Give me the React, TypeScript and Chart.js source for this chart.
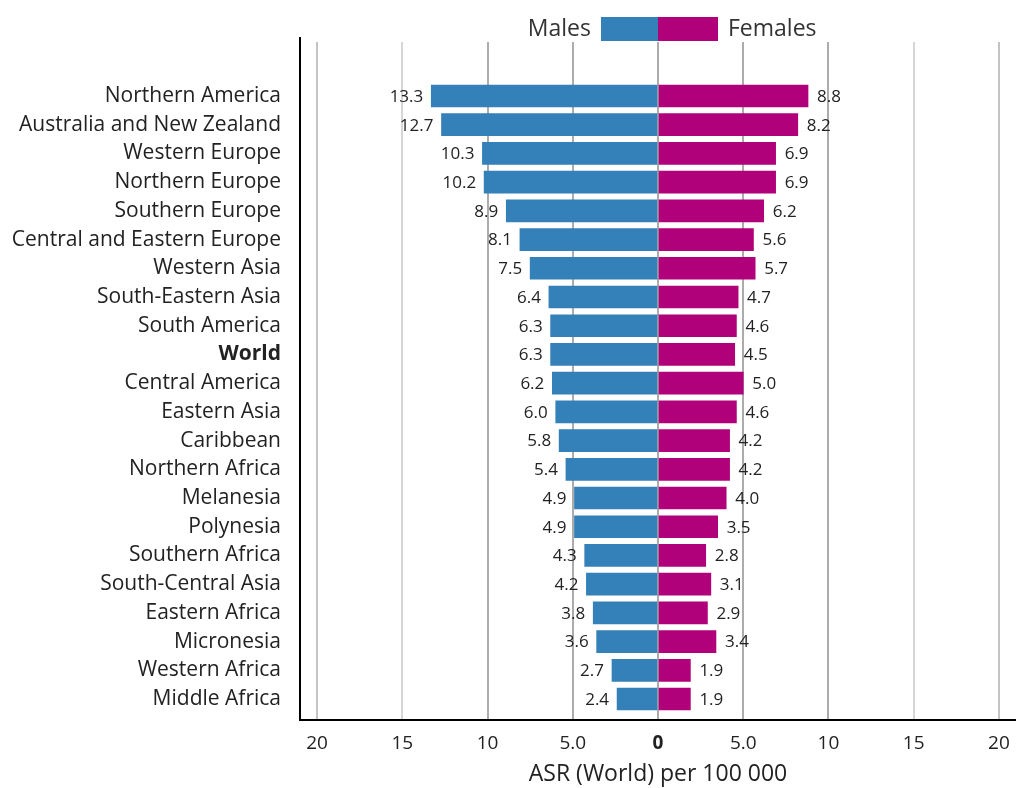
import React, { useEffect, useRef } from "react";
import { Chart, registerables } from "chart.js";

Chart.register(...registerables);

const categories = [
  "Northern America",
  "Australia and New Zealand",
  "Western Europe",
  "Northern Europe",
  "Southern Europe",
  "Central and Eastern Europe",
  "Western Asia",
  "South-Eastern Asia",
  "South America",
  "World",
  "Central America",
  "Eastern Asia",
  "Caribbean",
  "Northern Africa",
  "Melanesia",
  "Polynesia",
  "Southern Africa",
  "South-Central Asia",
  "Eastern Africa",
  "Micronesia",
  "Western Africa",
  "Middle Africa",
];

const males = [13.3, 12.7, 10.3, 10.2, 8.9, 8.1, 7.5, 6.4, 6.3, 6.3, 6.2, 6.0, 5.8, 5.4, 4.9, 4.9, 4.3, 4.2, 3.8, 3.6, 2.7, 2.4];
const females = [8.8, 8.2, 6.9, 6.9, 6.2, 5.6, 5.7, 4.7, 4.6, 4.5, 5.0, 4.6, 4.2, 4.2, 4.0, 3.5, 2.8, 3.1, 2.9, 3.4, 1.9, 1.9];

const xTicks = [-20, -15, -10, -5, 0, 5, 10, 15, 20];
const xTickLabels = ["20", "15", "10", "5.0", "0", "5.0", "10", "15", "20"];
const seriesNames = ["Males", "Females"];
const boldCategory = "World";
const axisTitle = "ASR (World) per 100 000";

const MALE_COLOR = "#3381b8";
const FEMALE_COLOR = "#b0007a";
const FONT = "'Open Sans', 'Noto Sans', sans-serif";

export default function App() {
  const canvasRef = useRef<HTMLCanvasElement | null>(null);

  useEffect(() => {
    const canvas = canvasRef.current;
    if (!canvas) return;

    const labelsPlugin = {
      id: "barLabels",
      afterDatasetsDraw(chart: any) {
        const ctx = chart.ctx;
        ctx.save();
        ctx.font = `17px ${FONT}`;
        ctx.fillStyle = "#222";
        ctx.textBaseline = "middle";
        chart.data.datasets.forEach((ds: any, di: number) => {
          const meta = chart.getDatasetMeta(di);
          meta.data.forEach((el: any, i: number) => {
            const v = di === 0 ? males[i] : females[i];
            const txt = v.toFixed(1);
            if (di === 0) {
              ctx.textAlign = "right";
              ctx.fillText(txt, el.x - 8, el.y + 1);
            } else {
              ctx.textAlign = "left";
              ctx.fillText(txt, el.x + 9, el.y + 1);
            }
          });
        });
        ctx.restore();
      },
      afterDraw(chart: any) {
        const ctx = chart.ctx;
        const xs = chart.scales.x;
        const zero = xs.getPixelForValue(0);
        ctx.save();
        ctx.fillStyle = MALE_COLOR;
        ctx.fillRect(zero - 57, 17, 57, 24);
        ctx.fillStyle = FEMALE_COLOR;
        ctx.fillRect(zero, 17, 60, 24);
        ctx.font = `23px ${FONT}`;
        ctx.fillStyle = "#333";
        ctx.textBaseline = "middle";
        ctx.textAlign = "right";
        ctx.fillText(seriesNames[0], zero - 67, 29);
        ctx.textAlign = "left";
        ctx.fillText(seriesNames[1], zero + 70, 29);
        ctx.strokeStyle = "#000";
        ctx.lineWidth = 2;
        ctx.beginPath();
        ctx.moveTo(chart.chartArea.left, 37);
        ctx.lineTo(chart.chartArea.left, chart.chartArea.top);
        ctx.stroke();
        ctx.restore();
      },
    };

    const chart = new Chart(canvas, {
      type: "bar",
      data: {
        datasets: [
          {
            label: seriesNames[0],
            data: males.map((v, i) => ({ x: -v, y: i })),
            backgroundColor: MALE_COLOR,
            grouped: false,
            barThickness: 22,
          } as any,
          {
            label: seriesNames[1],
            data: females.map((v, i) => ({ x: v, y: i })),
            backgroundColor: FEMALE_COLOR,
            grouped: false,
            barThickness: 22,
          } as any,
        ],
      },
      options: {
        indexAxis: "y",
        animation: false,
        responsive: false,
        devicePixelRatio: 1,
        layout: { padding: { top: 42, left: 0, right: 0, bottom: 0 } },
        plugins: {
          legend: { display: false },
          tooltip: { enabled: false },
        },
        scales: {
          x: {
            type: "linear",
            min: -21,
            max: 21,
            afterBuildTicks: (scale: any) => {
              scale.ticks = xTicks.map((v) => ({ value: v }));
            },
            afterFit: (scale: any) => {
              scale.height = 68;
              scale.paddingLeft = 0;
              scale.paddingRight = 0;
            },
            ticks: {
              callback: (v: any) => {
                const idx = xTicks.indexOf(Number(v));
                return idx >= 0 ? xTickLabels[idx] : "";
              },
              font: (ctx: any) => ({
                family: FONT,
                size: 19,
                weight: ctx.tick?.value === 0 ? "bold" : "normal",
              }),
              color: "#222",
              padding: 12,
              maxRotation: 0,
            },
            grid: {
              drawTicks: false,
              lineWidth: 2,
              color: (ctx: any) => {
                const v = Math.abs(ctx.tick?.value ?? 0);
                if (v === 15) return "#d6d6d6";
                if (v === 20) return "#c4c4c4";
                return "#acacac";
              },
            },
            border: { display: true, color: "#000", width: 2 },
            title: {
              display: true,
              text: axisTitle,
              font: { family: FONT, size: 23 },
              color: "#222",
              padding: { top: 0, bottom: 0 },
            },
          },
          y: {
            type: "linear",
            reverse: true,
            offset: false,
            min: -1.88,
            max: 21.73,
            afterBuildTicks: (scale: any) => {
              scale.ticks = categories.map((_, i) => ({ value: i }));
            },
            afterFit: (scale: any) => {
              scale.width = 300;
            },
            ticks: {
              callback: (v: any) => categories[Number(v)] ?? "",
              font: (ctx: any) => ({
                family: FONT,
                size: 21,
                weight: categories[ctx.tick?.value] === boldCategory ? "bold" : "normal",
              }),
              color: "#222",
              padding: 19,
              autoSkip: false,
            },
            grid: { display: false, drawTicks: false },
            border: { display: true, color: "#000", width: 2 },
          },
        },
      } as any,
      plugins: [labelsPlugin],
    });

    return () => chart.destroy();
  }, []);

  return (
    <div style={{ position: "absolute", left: 0, top: 0, width: 1016, height: 788, background: "#fff" }}>
      <canvas ref={canvasRef} width={1016} height={788} />
    </div>
  );
}
